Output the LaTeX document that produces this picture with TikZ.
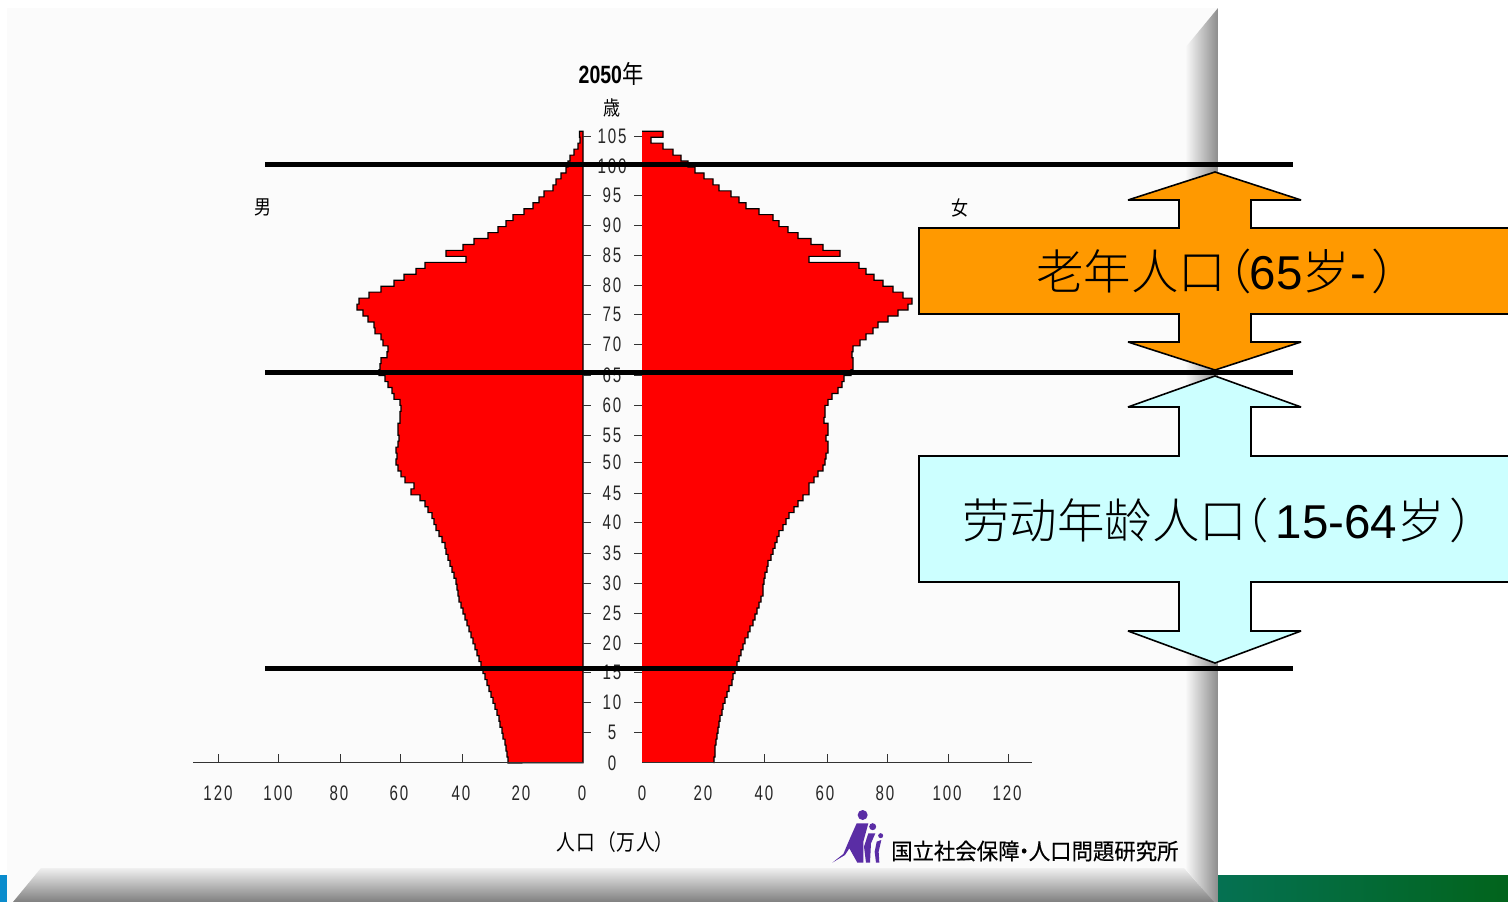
\documentclass[tikz,border=0pt]{standalone}
\usepackage{fontspec}
\setmainfont{Liberation Sans}
\newfontfamily\lblf[FakeStretch=0.72,LetterSpace=9]{Liberation Sans}
\newfontfamily\ttlf[FakeStretch=0.78]{Liberation Sans Bold}
\newfontfamily\jpf[FakeStretch=0.85]{Noto Sans CJK JP}
\newfontfamily\logof[FakeStretch=0.95,FakeBold=0.4]{Noto Sans CJK JP}
\newfontfamily\cjk{Noto Sans CJK SC Light}
\definecolor{panelc}{HTML}{FBFBFB}
\definecolor{orangec}{HTML}{FF9900}
\definecolor{cyanc}{HTML}{CCFFFF}
\definecolor{purplec}{HTML}{5A2DA5}
\tikzset{
  pyr/.style={fill=red,draw=black,line width=1.1pt,line join=miter},
  axisline/.style={draw=black!80,line width=1pt},
  agelbl/.style={inner sep=0pt,font=\lblf\fontsize{21}{21}\selectfont,text=black!85},
  xlbl/.style={inner sep=0pt,font=\lblf\fontsize{21}{21}\selectfont,text=black!85},
  arrowbox/.style={draw=black,line width=1.6pt,miter limit=2},
  band/.style={line width=5pt,draw=black},
  big/.style={inner sep=0pt,anchor=west,font=\fontsize{47.5}{48}\selectfont},
}
\begin{document}
\begin{tikzpicture}[x=1pt,y=-1pt]
\useasboundingbox (0,0) rectangle (1508,902);
\clip (0,0) rectangle (1508,902);
% slide strips
\fill[color={rgb,255:red,10;green,140;blue,205}] (0,875) rectangle (8,902);
\shade[left color={rgb,255:red,5;green,113;blue,82},right color={rgb,255:red,2;green,100;blue,28}] (1218,875) rectangle (1508,902);
% panel
\fill[panelc] (7,8) rectangle (1218,902);
\shade[left color=panelc,right color=black!45] (1218,8) -- (1185,48) -- (1185,868) -- (1213,902) -- (1218,902) -- cycle;
\shade[top color=black!6,bottom color=black!50] (13,902) -- (41,868) -- (1184,868) -- (1214,902) -- cycle;
% male
\draw[pyr] (583,131.2)
  \foreach \v [count=\i from 0, evaluate=\i as \t using {763-(106-\i)*5.96}, evaluate=\i as \b using {763-(105-\i)*5.96}] in
  {579.5,580,578,574,570,568,566,561,556,553,544,539,533,524,513,506,498,488,474,463,446,466,425,416,404,394,381,369,359,357,363,368,374,375,381,383,388,387,381,380,379,385,388,392,394,400,401,400,400,398,398,399,398,396,397,396,398,401,405,414,411,420,425,428,432,434,436,439,442,445,446,448,450,452,454,456,457,458,459,461,463,465,467,469,471,473,475,477,479,481,483,485,487,489,491,493,495,497,499,500,502,503,505,506,507,508}
  { -- (\v,\t) -- (\v,\b) } -- (583,762.7) -- cycle;
% female
\fill[red] (642,131.2)
  \foreach \v [count=\i from 0, evaluate=\i as \t using {763-(106-\i)*5.96}, evaluate=\i as \b using {763-(105-\i)*5.96}] in
  {663,651,663,673,681,688,695,704,713,719,731,739,746,759,773,779,788,798,811,823,840,809,859,866,874,883,893,903,912,908,898,888,878,873,866,860,853,852,853,853,851,844,842,838,832,828,825,825,824,828,828,826,828,828,826,825,823,818,814,809,809,803,798,794,789,786,783,779,777,775,773,771,768,767,765,764,763,763,761,759,757,755,753,750,748,745,743,741,739,737,735,733,732,729,727,725,723,722,720,719,718,717,716,715,715,714}
  { -- (\v,\t) -- (\v,\b) } -- (714,762.7) -- (642,762.7) -- cycle;
\draw[line width=1.1pt] (642,131.2)
  \foreach \v [count=\i from 0, evaluate=\i as \t using {763-(106-\i)*5.96}, evaluate=\i as \b using {763-(105-\i)*5.96}] in
  {663,651,663,673,681,688,695,704,713,719,731,739,746,759,773,779,788,798,811,823,840,809,859,866,874,883,893,903,912,908,898,888,878,873,866,860,853,852,853,853,851,844,842,838,832,828,825,825,824,828,828,826,828,828,826,825,823,818,814,809,809,803,798,794,789,786,783,779,777,775,773,771,768,767,765,764,763,763,761,759,757,755,753,750,748,745,743,741,739,737,735,733,732,729,727,725,723,722,720,719,718,717,716,715,715,714}
  { -- (\v,\t) -- (\v,\b) } -- (714,762.7);
% axes
\draw[axisline] (193,762.7) -- (583,762.7);
\draw[axisline] (642,762.7) -- (1032,762.7);
\foreach \x in {218,278,340,400,462} \draw[axisline] (\x,754) -- (\x,762.7);
\foreach \x in {764,827,887,948,1008} \draw[axisline] (\x,754) -- (\x,762.7);
\foreach \a/\y in {105/136,100/166,95/195,90/225,85/255,80/285,75/314.5,70/344.7,65/375,60/405.7,55/435.7,50/462.3,45/493.3,40/522.7,35/553.3,30/583.3,25/613,20/643,15/672.7,10/702.7,5/732.7}{
  \draw[axisline] (583,\y) -- (591,\y);
  \draw[axisline] (634,\y) -- (642,\y);
  \node[agelbl] (age\a) at (612,\y) {\a};
}
\node[agelbl] (age0) at (612,763) {0};
\foreach \t/\x [count=\k] in {120/218,100/278,80/339,60/399,40/461,20/521,0/582}
  \node[xlbl] (mx\k) at (\x,793) {\t};
\foreach \t/\x [count=\k] in {0/642,20/703,40/764,60/825,80/885,100/947,120/1007}
  \node[xlbl] (fx\k) at (\x,793) {\t};
% titles
\node[inner sep=0pt] (title) at (611,74) {\ttlf\fontsize{25}{25}\selectfont 2050\jpf 年};
\node[inner sep=0pt] (sai) at (612,108) {\jpf\fontsize{20}{20}\selectfont 歳};
\node[inner sep=0pt] (male) at (263,207) {\jpf\fontsize{20}{20}\selectfont 男};
\node[inner sep=0pt] (female) at (960,208) {\jpf\fontsize{20}{20}\selectfont 女};
\node[inner sep=0pt] (unit) at (615,842) {\jpf\fontsize{22}{22}\selectfont 人\kern1pt口\kern3pt（万\kern1pt人）};
% logo
\begin{scope}[shift={(800,780)},x=.3333pt,y=-.3333pt]
  \fill[purplec] (188,105) circle[radius=15];
  \fill[purplec] (218,140) circle[radius=10.5];
  \fill[purplec] (242,167) circle[radius=7.5];
  \fill[purplec] (170,130) -- (205,130) -- (190,185) -- (190,248) -- (172,248) -- (148,205) -- (135,225) -- (97,248) -- (130,222) -- (150,175) -- cycle;
  \fill[purplec] (205,160) -- (226,160) -- (213,190) -- (210,248) -- (198,248) -- (192,200) -- cycle;
  \fill[purplec] (230,185) -- (244,180) -- (236,215) -- (238,248) -- (228,248) -- (224,215) -- cycle;
\end{scope}
\node[inner sep=0pt,anchor=west] (logotext) at (891,851) {\logof\fontsize{22.5}{23}\selectfont 国立社会保障\kern-6pt・\kern-6pt人口問題研究所};
% arrows
\draw[arrowbox,fill=orangec] (1215,172) -- (1301,200) -- (1251,200) -- (1251,228) -- (1520,228) -- (1520,314) -- (1251,314) -- (1251,342) -- (1301,342) -- (1215,370) -- (1128,342) -- (1179,342) -- (1179,314) -- (919,314) -- (919,228) -- (1179,228) -- (1179,200) -- (1128,200) -- cycle;
\draw[arrowbox,fill=cyanc] (1215,376) -- (1301,407) -- (1251,407) -- (1251,456) -- (1520,456) -- (1520,582) -- (1251,582) -- (1251,631) -- (1301,631) -- (1215,663) -- (1128,631) -- (1179,631) -- (1179,582) -- (919,582) -- (919,456) -- (1179,456) -- (1179,407) -- (1128,407) -- cycle;
\node[big] (oldtext) at (1036,271) {\cjk 老年人口\kern-22pt（\kern-2pt\rmfamily 65\cjk 岁\rmfamily -\kern6pt\cjk ）};
\node[big] (worktext) at (962,520) {\cjk 劳动年龄人口\kern-26pt（\kern7pt\rmfamily 15-64\cjk 岁\kern5pt）};
% bands
\draw[band] (265,164.5) -- (1293,164.5);
\draw[band] (265,372.5) -- (1293,372.5);
\draw[band] (265,668) -- (1293,668);
\end{tikzpicture}
\end{document}
